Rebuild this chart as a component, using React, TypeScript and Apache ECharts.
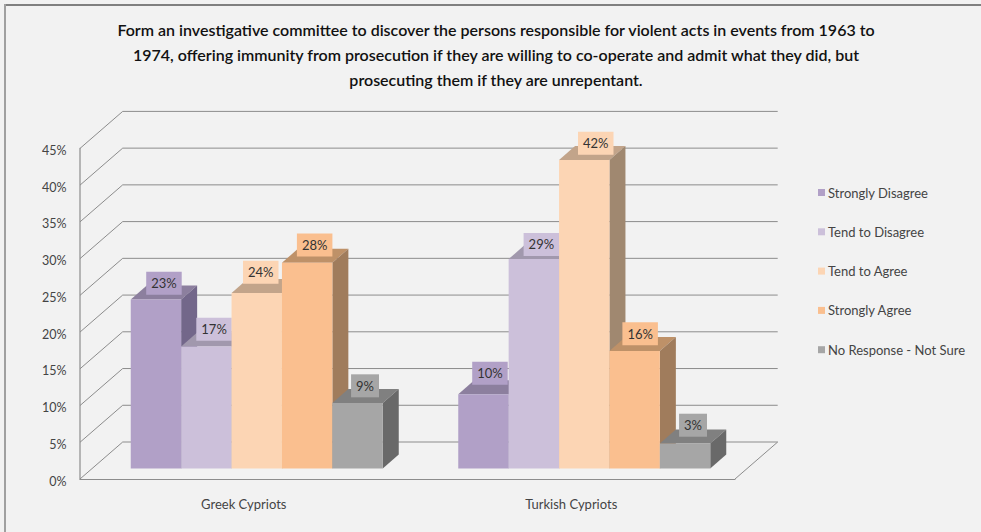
import React, { useEffect, useRef } from "react";
import * as echarts from "echarts";

const titleLines = [
  "Form an investigative committee to discover the persons responsible for violent acts in events from 1963 to",
  "1974, offering immunity from prosecution if they are willing to co-operate and admit what they did, but",
  "prosecuting them if they are unrepentant.",
];
const categories = ["Greek Cypriots", "Turkish Cypriots"];
const seriesNames = ["Strongly Disagree", "Tend to Disagree", "Tend to Agree", "Strongly Agree", "No Response - Not Sure"];
const stronglyDisagree = [23, 10.1];
const tendToDisagree = [16.6, 28.5];
const tendToAgree = [23.9, 42];
const stronglyAgree = [28, 16];
const noResponse = [8.9, 3.4];
const allValues = [stronglyDisagree, tendToDisagree, tendToAgree, stronglyAgree, noResponse];
const gridTicks = [0, 5, 10, 15, 20, 25, 30, 35, 40, 45];

const frontColors = ["#B1A0C7", "#CCC0DA", "#FCD5B4", "#FABF8F", "#A6A6A6"];
const topColors = ["#8C7F9E", "#A198AD", "#C2A48A", "#BE9168", "#808080"];
const sideColors = ["#73678A", "#8A8296", "#A08870", "#A07C5C", "#696969"];

// label placement relative to the bar's top centre, [series][category]
const labelShiftX = [[8, 6.5], [7.7, 7.5], [4, 11.5], [7.5, 5.5], [7.5, 8]];
const labelLift = [[16.3, 21], [17.2, 14.7], [20.7, 16.8], [17.8, 17.2], [17.3, 18.3]];

const FONT = "Lato";
const DX = 42.7, DY = -37;
const BAR_W = 50.4, DEPTH_X = 16, DEPTH_Y = -14, BASE_UP = 10.5, GROUP_SHIFT = 13;

export default function App() {
  const ref = useRef<HTMLDivElement>(null);
  useEffect(() => {
    const chart = echarts.init(ref.current!, null, { renderer: "svg" });
    const wallSeries: any = {
      type: "custom",
      silent: true,
      z: 1,
      data: gridTicks.map((t) => [0, t]),
      encode: { x: 0, y: 1 },
      renderItem: (p: any, api: any) => {
        const v = api.value(1);
        const [, y] = api.coord([0, v]);
        const cs = p.coordSys;
        const x0 = cs.x;
        const x1 = cs.x + cs.width;
        const lineStyle = { stroke: "#8C8C8C", fill: "none", lineWidth: 1 };
        const children: any[] = [
          { type: "polyline", shape: { points: [[x0, y], [x0 + DX, y + DY], [x1 + DX, y + DY]] }, style: lineStyle },
        ];
        if (v === 0) {
          children.push({ type: "line", shape: { x1: x1 + DX, y1: y + DY, x2: x1, y2: y }, style: lineStyle });
        }
        return { type: "group", children };
      },
    };
    const barSeries: any[] = seriesNames.map((name, i) => ({
      type: "custom",
      name,
      z: 2 + i,
      silent: true,
      itemStyle: { color: frontColors[i] },
      data: allValues[i].map((v, c) => [c, v]),
      encode: { x: 0, y: 1 },
      renderItem: (_p: any, api: any) => {
        const c = api.value(0);
        const v = api.value(1);
        const [cx, yTop0] = api.coord([c, v]);
        const [, yBase0] = api.coord([c, 0]);
        const x = cx + GROUP_SHIFT + (i - 2.5) * BAR_W;
        const yTop = yTop0 - BASE_UP;
        const yBase = yBase0 - BASE_UP;
        const r = x + BAR_W;
        return {
          type: "group",
          children: [
            { type: "polygon", shape: { points: [[x, yTop], [x + DEPTH_X, yTop + DEPTH_Y], [r + DEPTH_X, yTop + DEPTH_Y], [r, yTop]] }, style: { fill: topColors[i] } },
            { type: "polygon", shape: { points: [[r, yTop], [r + DEPTH_X, yTop + DEPTH_Y], [r + DEPTH_X, yBase + DEPTH_Y], [r, yBase]] }, style: { fill: sideColors[i] } },
            { type: "rect", shape: { x, y: yTop, width: BAR_W, height: yBase - yTop }, style: { fill: frontColors[i] } },
            {
              type: "text",
              x: x + BAR_W / 2 + labelShiftX[i][c],
              y: yTop - labelLift[i][c],
              style: {
                text: Math.round(v) + "%",
                fontFamily: FONT,
                fontSize: 13,
                fill: "#333",
                align: "center",
                verticalAlign: "middle",
                backgroundColor: frontColors[i],
                padding: [5, 5],
              },
            },
          ],
        };
      },
    }));
    chart.setOption({
      animation: false,
      backgroundColor: "#F2F2F2",
      title: {
        text: titleLines.join("\n"),
        left: 491,
        top: 12,
        textAlign: "center",
        textStyle: { fontFamily: FONT, fontSize: 16, fontWeight: 600, color: "#111", lineHeight: 25, align: "center" },
      },
      grid: { left: 80, top: 148.4, width: 655, height: 330.6 },
      xAxis: {
        type: "category",
        data: categories,
        axisLine: { lineStyle: { color: "#8C8C8C", width: 1 } },
        axisTick: { show: false },
        axisLabel: { fontFamily: FONT, fontSize: 13, color: "#444", margin: 18 },
      },
      yAxis: {
        type: "value",
        min: 0,
        max: 45,
        interval: 5,
        axisLine: { show: true, lineStyle: { color: "#A0A0A0", width: 1.5 } },
        axisTick: { show: false },
        splitLine: { show: false },
        axisLabel: {
          fontFamily: FONT,
          fontSize: 12.5,
          color: "#444",
          margin: 13.5,
          formatter: "{a|{value}%}",
          rich: { a: { fontFamily: FONT, fontSize: 12.5, color: "#444", padding: [4, 0, 0, 0] } },
        },
      },
      legend: {
        show: true,
        orient: "vertical",
        left: 818,
        top: 186,
        padding: 0,
        itemWidth: 7,
        itemHeight: 7,
        itemGap: 26.3,
        icon: "rect",
        selectedMode: false,
        data: seriesNames,
        textStyle: { fontFamily: FONT, fontSize: 13, color: "#444", padding: [0, 0, 0, -2] },
      },
      graphic: [
        { type: "rect", silent: true, z: 100, shape: { x: 4, y: 4, width: 977, height: 2 }, style: { fill: "#808080" } },
        { type: "rect", silent: true, z: 100, shape: { x: 4, y: 4, width: 2, height: 528 }, style: { fill: "#A0A0A0" } },
      ],
      series: [wallSeries, ...barSeries],
    });
    return () => chart.dispose();
  }, []);
  return <div ref={ref} style={{ position: "fixed", left: 0, top: 0, width: 981, height: 532 }} />;
}
